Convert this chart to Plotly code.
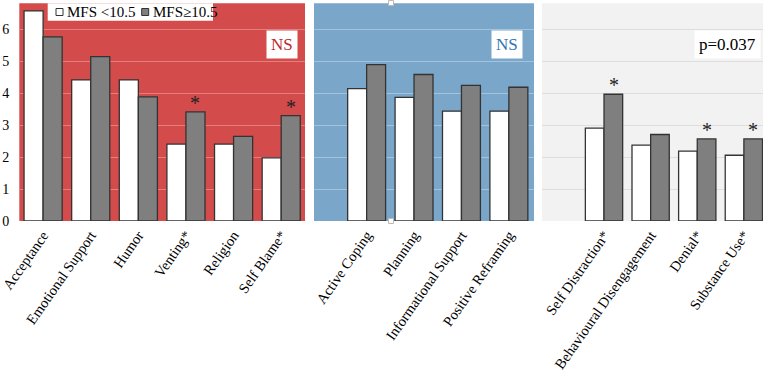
import plotly.graph_objects as go

# ---------------- data ----------------
series_names = ["MFS <10.5", "MFS≥10.5"]

cats1 = ["Acceptance", "Emotional Support", "Humor", "Venting*", "Religion", "Self Blame*"]
low1 = [6.58, 4.42, 4.42, 2.41, 2.41, 1.98]
high1 = [5.77, 5.15, 3.89, 3.42, 2.65, 3.30]
sig1 = [False, False, False, True, False, True]

cats2 = ["Active Coping", "Planning", "Informational Support", "Positive Reframing"]
low2 = [4.15, 3.87, 3.44, 3.44]
high2 = [4.90, 4.59, 4.25, 4.19]
sig2 = [False, False, False, False]

cats3 = ["Self Distraction*", "Behavioural Disengagement", "Denial*", "Substance Use*"]
low3 = [2.91, 2.38, 2.19, 2.06]
high3 = [3.97, 2.71, 2.57, 2.57]
sig3 = [True, False, True, True]

y_ticks = [0, 1, 2, 3, 4, 5, 6]
panel_labels = ["NS", "NS", "p=0.037"]

# ---------------- layout constants ----------------
W, H = 766, 373
FONT = "Liberation Serif, Times New Roman, DejaVu Serif, serif"
WHITE_FILL = "#ffffff"
GRAY_FILL = "#7f7f7f"
OUTLINE = "#333333"
PANEL_BG = ["#d34b4b", "#7aa6ca", "#f2f2f2"]
GRID = ["#e27f7f", "#a4c3dd", "#dedede"]


def px(x):
    return x / W


def py(y):
    return (H - y) / H


y_bottom, y_top = 221, 3.3
x_domains = [(19.3, 305), (314, 534), (542, 763)]
x_ranges = [[-0.5, 5.5], [-1.11, 3.53], [-1.33, 3.41]]

fig = go.Figure()

panels = [(cats1, low1, high1, sig1), (cats2, low2, high2, sig2), (cats3, low3, high3, sig3)]
for i, (cats, lo, hi, sig) in enumerate(panels):
    suffix = "" if i == 0 else str(i + 1)
    fig.add_trace(go.Bar(
        x=cats, y=lo, name=series_names[0], showlegend=False,
        marker=dict(color=WHITE_FILL, line=dict(color=OUTLINE, width=1.3)),
        xaxis="x" + suffix, yaxis="y" + suffix,
    ))
    fig.add_trace(go.Bar(
        x=cats, y=hi, name=series_names[1], showlegend=False,
        marker=dict(color=GRAY_FILL, line=dict(color=OUTLINE, width=1.3)),
        xaxis="x" + suffix, yaxis="y" + suffix,
    ))
    for c, v, s in zip(cats, hi, sig):
        if s:
            fig.add_annotation(
                x=c, y=v, xref="x" + suffix, yref="y" + suffix,
                text="*", showarrow=False, xanchor="center", yanchor="bottom",
                xshift=9.5, yshift=-4, font=dict(family=FONT, size=20, color="#222222"),
            )

layout = dict(
    width=W, height=H,
    margin=dict(l=0, r=0, t=0, b=0, autoexpand=False),
    paper_bgcolor="white", plot_bgcolor="rgba(0,0,0,0)",
    barmode="group", bargap=0.2, bargroupgap=0,
    showlegend=False,
    font=dict(family=FONT, size=15, color="black"),
)
for i in range(3):
    suffix = "" if i == 0 else str(i + 1)
    x0, x1 = x_domains[i]
    layout["xaxis" + suffix] = dict(
        domain=[px(x0), px(x1)], range=x_ranges[i], anchor="y" + suffix,
        tickangle=-55, showgrid=False, zeroline=False, showline=False,
        ticks="", automargin=False, ticklabelstandoff=2,
        tickfont=dict(family=FONT, size=14.5, color="black"),
    )
    layout["yaxis" + suffix] = dict(
        domain=[py(y_bottom), py(y_top)], range=[0, 6.82], anchor="x" + suffix,
        tickvals=y_ticks, showticklabels=(i == 0), showgrid=True,
        gridcolor=GRID[i], gridwidth=1, zeroline=False, showline=False, ticks="",
        automargin=False,
        tickfont=dict(family=FONT, size=14, color="black"), ticklabelstandoff=9,
    )
fig.update_layout(**layout)

# panel backgrounds
for i in range(3):
    x0, x1 = x_domains[i]
    fig.add_shape(type="rect", xref="paper", yref="paper",
                  x0=px(x0), x1=px(x1), y0=py(y_bottom), y1=py(y_top),
                  fillcolor=PANEL_BG[i], line=dict(width=0), layer="below")

# panel label boxes
label_boxes = [(282, 45, "#c0272d"), (507.5, 45, "#2e75b6"), (727, 45, "black")]
for (cx, cy, col), txt in zip(label_boxes, panel_labels):
    fig.add_annotation(
        x=px(cx), y=py(cy), xref="paper", yref="paper", text=txt, showarrow=False,
        xanchor="center", yanchor="middle", bgcolor="white", borderpad=4,
        font=dict(family=FONT, size=17, color=col),
    )

# manual legend
fig.add_shape(type="rect", xref="paper", yref="paper",
              x0=px(47.7), x1=px(213), y0=py(20.7), y1=py(3.3),
              fillcolor="white", line=dict(width=0))
for sx, fill, tx, name in [(56, WHITE_FILL, 65, series_names[0]),
                           (141.7, GRAY_FILL, 150.7, series_names[1])]:
    fig.add_shape(type="rect", xref="paper", yref="paper",
                  x0=px(sx), x1=px(sx + 7), y0=py(15.5), y1=py(8.5),
                  fillcolor=fill, line=dict(color=OUTLINE, width=1))
    fig.add_annotation(x=px(tx), y=py(12), xref="paper", yref="paper", text=name,
                       showarrow=False, xanchor="left", yanchor="middle",
                       font=dict(family=FONT, size=15, color="black"))

# small selection handles on the middle chart
for hy in (3, 221):
    fig.add_shape(type="rect", xref="paper", yref="paper",
                  x0=px(388.5), x1=px(393.5), y0=py(hy + 2.5), y1=py(hy - 2.5),
                  fillcolor="white", line=dict(color="#bbbbbb", width=1))

fig.write_html(
    "out.html",
    config={"displayModeBar": False},
    post_script="document.body.style.margin='0px';document.body.style.overflow='hidden';",
)
